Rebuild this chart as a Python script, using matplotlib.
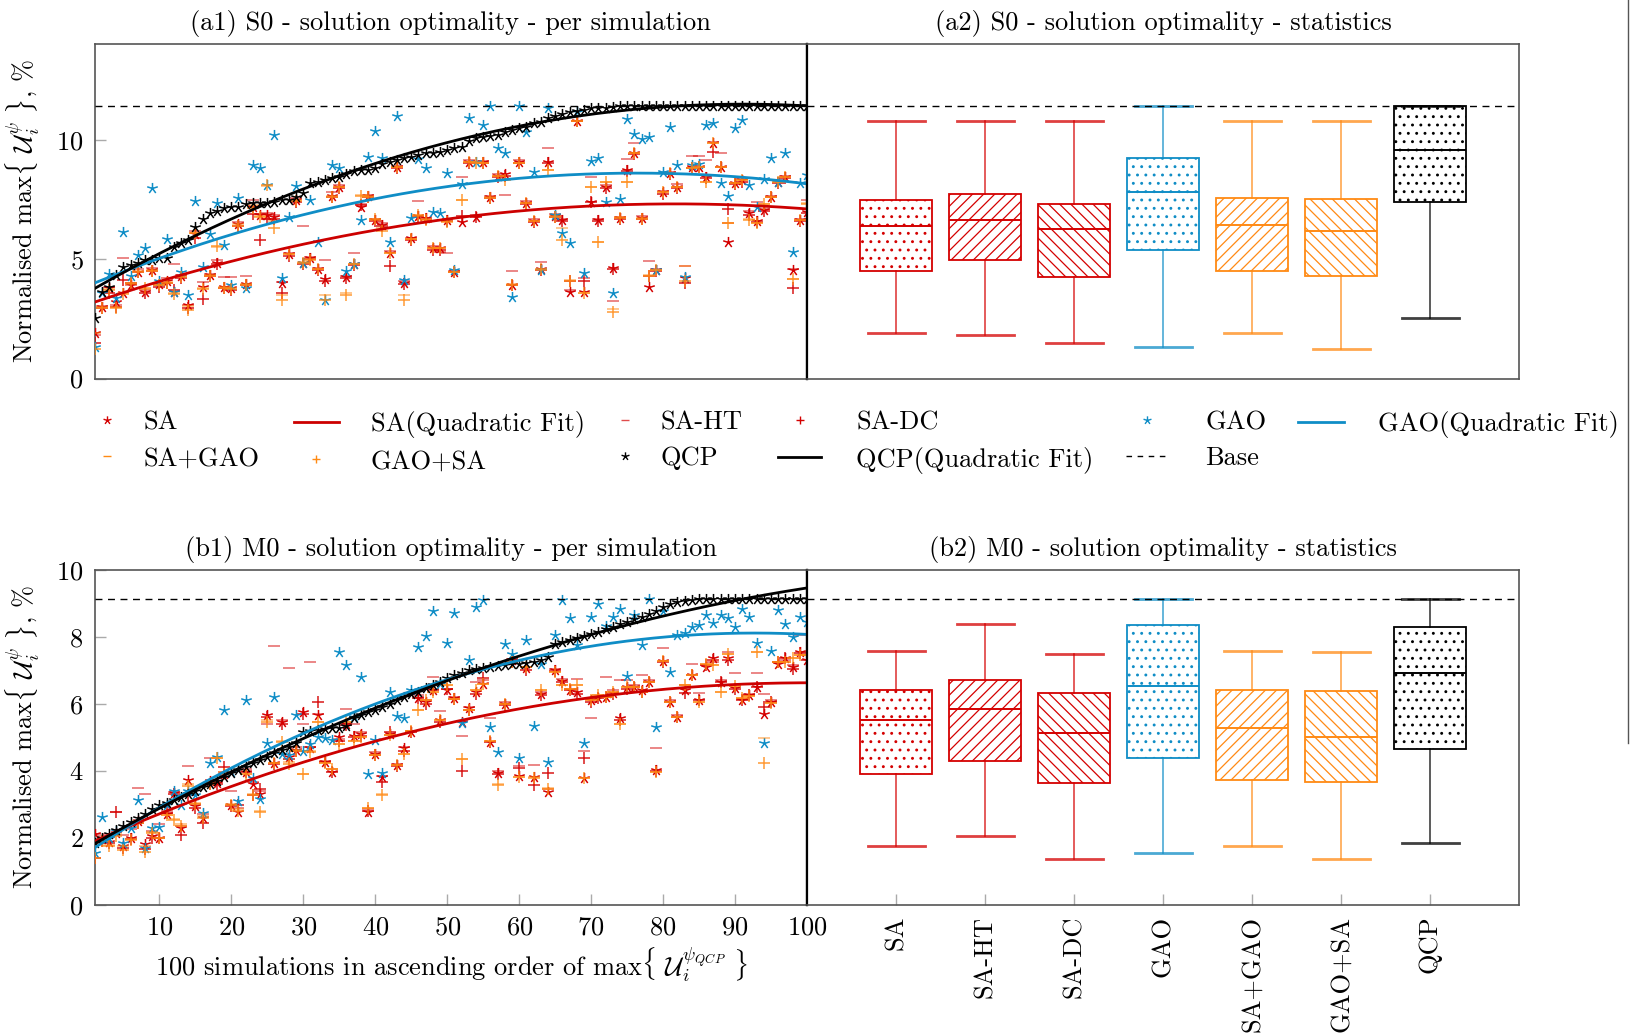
import numpy as np
import matplotlib
matplotlib.use('Agg')
import matplotlib.pyplot as plt
from matplotlib.path import Path
from matplotlib.lines import Line2D

plt.rcParams['font.family'] = ['cmr10', 'DejaVu Serif']
plt.rcParams['mathtext.fontset'] = 'cm'
plt.rcParams['axes.formatter.use_mathtext'] = True
plt.rcParams['axes.unicode_minus'] = False
plt.rcParams['hatch.linewidth'] = 0.9

FS = 19
RED = '#d40000'
BLUE = '#0f8dc6'
ORANGE = '#ff8a14'
W, H = 1636, 1033

sims = np.arange(1, 101)

### S0 - per simulation
s0_sa = [1.90, 3.00, 3.80, 3.20, 3.60, 3.92, 4.48, 3.64, 4.55, 3.95,
         4.10, 3.64, 4.30, 3.08, 6.05, 3.85, 4.34, 4.86, 3.85, 3.78,
         6.46, 3.95, 7.20, 6.85, 6.85, 6.78, 4.00, 5.20, 7.48, 4.86,
         5.04, 4.60, 4.16, 7.65, 8.04, 4.25, 4.80, 7.20, 7.65, 6.64,
         6.43, 5.27, 8.85, 4.00, 5.88, 6.80, 6.71, 5.46, 5.46, 6.64,
         4.48, 6.57, 9.09, 6.78, 9.09, 7.60, 8.48, 8.55, 3.92, 9.09,
         7.37, 6.60, 4.60, 9.09, 6.80, 6.64, 3.64, 10.80, 3.64, 7.41,
         6.64, 8.04, 4.65, 6.71, 8.74, 9.44, 6.71, 3.85, 4.55, 7.80,
         8.60, 8.04, 4.20, 8.85, 8.88, 8.46, 9.85, 8.88, 5.74, 8.18,
         8.30, 6.92, 6.60, 7.05, 7.62, 8.25, 8.46, 4.55, 6.64, 6.99]
s0_ht = [1.83, 3.05, 3.85, 3.10, 5.04, 3.90, 4.60, 3.70, 4.62, 3.90,
         4.20, 4.80, 4.35, 3.10, 6.20, 4.05, 4.40, 4.95, 4.27, 4.25,
         6.55, 4.30, 7.50, 6.90, 6.95, 6.85, 4.05, 5.25, 7.55, 6.40,
         5.10, 4.65, 4.95, 7.80, 8.10, 4.30, 5.25, 7.30, 7.70, 6.70,
         6.50, 5.35, 8.90, 4.10, 5.88, 7.45, 6.55, 5.55, 5.30, 5.25,
         4.50, 8.43, 9.15, 6.85, 9.10, 7.65, 8.55, 7.71, 4.50, 9.15,
         7.45, 6.70, 4.90, 9.67, 6.90, 6.70, 3.70, 10.80, 4.20, 8.43,
         6.70, 8.10, 3.25, 6.75, 9.20, 9.88, 6.80, 4.94, 4.60, 7.85,
         8.65, 8.15, 4.70, 9.32, 9.32, 9.15, 9.90, 9.44, 6.50, 8.20,
         8.35, 7.00, 7.40, 7.10, 7.65, 8.30, 8.50, 4.60, 6.70, 7.50]
s0_dc = [1.49, 2.95, 3.60, 3.00, 4.13, 4.00, 4.45, 3.60, 4.50, 3.85,
         4.00, 3.70, 4.20, 2.95, 5.90, 3.35, 4.30, 4.80, 3.80, 3.70,
         6.40, 3.90, 6.90, 5.81, 6.70, 6.70, 3.60, 5.15, 7.40, 4.80,
         5.00, 4.55, 4.10, 7.60, 8.00, 4.20, 4.75, 7.25, 7.60, 6.60,
         6.40, 4.70, 8.80, 3.95, 5.80, 6.75, 6.70, 5.40, 5.40, 6.60,
         4.45, 6.80, 9.05, 6.75, 9.05, 7.55, 8.45, 8.50, 3.90, 9.05,
         7.30, 6.55, 4.55, 9.05, 6.78, 6.60, 4.10, 10.80, 4.10, 7.40,
         6.60, 8.00, 4.60, 6.70, 8.70, 9.40, 6.70, 4.30, 4.50, 7.75,
         8.55, 8.00, 4.00, 8.80, 8.85, 8.40, 9.51, 8.85, 7.10, 8.15,
         8.25, 6.85, 6.55, 7.00, 7.60, 8.20, 8.40, 3.78, 6.60, 6.95]
s0_gao = [1.34, 3.60, 4.40, 3.36, 6.13, 4.30, 5.18, 5.46, 7.97, 4.10,
          5.85, 3.64, 4.45, 3.50, 7.44, 4.69, 6.04, 7.37, 5.60, 3.90,
          7.55, 3.78, 8.95, 8.81, 8.10, 10.20, 4.20, 6.78, 8.07, 4.86,
          7.48, 5.73, 3.30, 8.95, 8.81, 4.52, 4.80, 6.64, 9.27, 10.39,
          9.23, 5.73, 11.00, 4.13, 6.71, 9.20, 8.81, 6.99, 6.92, 8.63,
          4.55, 8.15, 10.90, 9.09, 10.62, 11.43, 9.65, 9.44, 3.40, 11.43,
          10.34, 8.67, 4.55, 11.32, 6.85, 6.08, 5.67, 11.18, 4.44, 9.13,
          9.23, 7.41, 3.60, 7.51, 10.88, 10.25, 10.04, 10.13, 4.55, 8.67,
          10.53, 8.95, 4.24, 8.95, 9.00, 10.62, 10.69, 8.20, 7.66, 10.51,
          10.83, 8.11, 7.20, 8.35, 9.23, 8.25, 9.44, 5.29, 8.18, 8.53]
s0_sagao = [1.90, 3.00, 3.75, 3.00, 3.57, 3.95, 4.50, 3.75, 4.55, 3.92,
            4.05, 3.60, 4.30, 3.05, 6.10, 3.80, 4.35, 5.50, 3.85, 3.80,
            6.46, 3.95, 7.25, 6.80, 8.05, 6.60, 3.50, 5.20, 7.48, 4.90,
            5.00, 4.58, 3.50, 7.65, 8.04, 3.60, 4.80, 7.69, 7.65, 6.65,
            6.30, 5.27, 8.85, 3.50, 5.85, 6.80, 6.70, 5.46, 5.46, 6.60,
            4.48, 7.48, 9.09, 9.09, 9.05, 7.60, 8.48, 8.35, 3.95, 9.05,
            7.37, 6.60, 4.55, 8.74, 6.80, 6.30, 4.15, 10.80, 3.60, 8.04,
            5.74, 8.25, 2.90, 6.75, 8.22, 9.44, 6.71, 4.35, 4.55, 7.80,
            8.60, 8.04, 4.70, 8.80, 8.88, 8.25, 9.85, 8.88, 6.50, 8.18,
            8.30, 6.70, 6.50, 7.30, 7.62, 8.25, 8.46, 4.16, 6.65, 7.35]
s0_gaosa = [1.24, 2.95, 3.70, 2.95, 3.55, 4.00, 4.45, 3.80, 4.50, 3.92,
            4.00, 3.55, 4.25, 2.88, 6.08, 3.75, 4.30, 5.55, 3.80, 3.75,
            6.40, 3.90, 7.15, 6.75, 8.10, 6.30, 3.29, 5.20, 7.45, 4.86,
            4.95, 4.58, 3.29, 7.60, 8.04, 3.50, 4.78, 7.65, 7.60, 6.70,
            6.20, 5.25, 8.85, 3.29, 5.85, 6.85, 6.65, 5.45, 5.45, 6.55,
            4.45, 7.48, 9.09, 9.05, 9.05, 7.55, 8.48, 8.30, 3.90, 9.05,
            7.35, 6.60, 4.60, 8.74, 6.78, 5.80, 4.10, 10.80, 3.60, 8.04,
            5.74, 8.25, 2.80, 6.71, 8.22, 9.44, 6.70, 4.30, 4.55, 7.80,
            8.60, 8.04, 4.10, 8.80, 8.88, 8.25, 9.85, 8.85, 6.50, 8.18,
            8.30, 6.65, 6.50, 7.30, 7.60, 8.25, 8.46, 4.16, 6.65, 7.30]
s0_qcp = [2.55, 3.64, 3.85, 4.34, 4.69, 4.76, 4.86, 4.97, 4.97, 5.04,
          5.04, 5.53, 5.67, 5.81, 6.36, 6.69, 6.92, 7.00, 7.13, 7.20,
          7.20, 7.30, 7.34, 7.34, 7.37, 7.41, 7.48, 7.50, 7.62, 7.76,
          8.18, 8.25, 8.32, 8.39, 8.46, 8.57, 8.69, 8.74, 8.74, 8.81,
          8.99, 9.08, 9.16, 9.23, 9.30, 9.36, 9.43, 9.46, 9.50, 9.57,
          9.64, 9.71, 9.93, 10.07, 10.11, 10.15, 10.20, 10.34, 10.41, 10.48,
          10.55, 10.69, 10.76, 10.93, 11.00, 11.08, 11.18, 11.22, 11.25, 11.32,
          11.32, 11.35, 11.39, 11.42, 11.43, 11.43, 11.43, 11.43, 11.43, 11.43,
          11.43, 11.43, 11.43, 11.43, 11.43, 11.43, 11.43, 11.43, 11.43, 11.43,
          11.43, 11.43, 11.43, 11.43, 11.43, 11.43, 11.43, 11.43, 11.43, 11.43]

### M0 - per simulation
m0_sa = [2.10, 1.95, 1.88, 2.15, 1.76, 2.00, 2.50, 1.80, 2.05, 2.00,
         2.70, 3.32, 2.30, 3.72, 2.95, 2.60, 3.68, 3.62, 3.90, 2.98,
         2.78, 3.97, 3.60, 3.30, 5.66, 4.22, 5.46, 4.40, 4.62, 5.76,
         4.67, 5.66, 4.25, 3.97, 5.00, 5.40, 5.05, 5.09, 2.78, 4.50,
         3.80, 5.10, 4.17, 4.67, 5.16, 6.16, 6.06, 6.40, 5.50, 6.40,
         6.16, 5.46, 5.86, 6.36, 6.60, 4.87, 3.92, 5.98, 7.30, 3.85,
         7.06, 3.80, 6.30, 3.37, 7.00, 6.68, 6.41, 6.36, 3.79, 6.10,
         6.16, 6.20, 6.33, 5.58, 6.50, 6.51, 6.40, 6.66, 4.02, 7.26,
         6.06, 5.61, 6.40, 6.86, 6.11, 7.10, 7.35, 6.65, 7.35, 6.46,
         6.11, 6.26, 6.51, 5.68, 6.06, 7.20, 7.35, 7.10, 7.55, 7.30]
m0_ht = [2.10, 2.05, 2.10, 2.78, 2.08, 2.25, 3.47, 3.30, 2.20, 2.40,
         2.80, 3.35, 2.35, 4.14, 3.00, 2.70, 4.39, 3.70, 3.95, 3.40,
         2.90, 4.05, 3.65, 3.40, 5.40, 7.73, 5.50, 7.08, 4.70, 5.40,
         7.23, 5.70, 4.30, 4.05, 4.95, 5.83, 5.40, 5.15, 2.85, 4.55,
         3.85, 5.06, 4.20, 4.70, 5.20, 6.25, 6.10, 6.81, 5.78, 6.45,
         6.20, 5.04, 5.90, 6.65, 6.70, 5.58, 4.00, 6.05, 7.32, 4.15,
         7.10, 4.17, 6.35, 3.45, 7.05, 6.73, 6.45, 6.73, 4.60, 5.56,
         6.20, 6.81, 6.40, 6.71, 6.71, 6.55, 6.86, 6.70, 4.69, 7.67,
         6.10, 5.65, 6.56, 7.20, 6.31, 7.15, 7.25, 6.70, 7.55, 6.93,
         6.15, 6.30, 6.93, 6.30, 6.10, 7.25, 7.30, 7.15, 8.05, 7.55]
m0_dc = [1.40, 1.90, 1.85, 2.78, 1.70, 1.95, 2.45, 1.65, 2.00, 1.98,
         2.75, 3.30, 2.08, 3.27, 2.90, 2.43, 3.60, 3.60, 4.12, 2.95,
         2.98, 3.95, 3.27, 3.45, 5.60, 4.20, 5.40, 4.35, 4.60, 5.70,
         4.72, 6.06, 4.27, 3.95, 4.90, 5.35, 5.00, 5.05, 2.80, 4.47,
         3.67, 5.17, 4.15, 4.60, 5.15, 6.16, 6.00, 6.40, 5.45, 6.45,
         6.15, 3.99, 5.80, 6.30, 6.76, 4.85, 3.90, 5.95, 7.25, 4.09,
         7.00, 3.57, 6.25, 3.92, 6.98, 6.65, 6.40, 6.30, 4.37, 6.05,
         6.16, 6.20, 6.30, 5.50, 6.45, 6.50, 6.35, 6.66, 4.00, 7.25,
         6.05, 5.60, 6.31, 6.85, 6.10, 7.15, 7.30, 6.66, 7.30, 6.45,
         6.10, 6.25, 6.50, 5.90, 6.05, 7.25, 7.35, 7.05, 7.50, 7.30]
m0_gao = [1.53, 2.63, 2.00, 2.20, 1.85, 2.28, 3.13, 1.68, 2.28, 2.33,
          2.98, 3.40, 2.98, 3.40, 3.27, 2.73, 4.22, 4.40, 5.81, 3.97,
          3.10, 6.11, 3.77, 3.17, 4.82, 6.21, 4.50, 4.47, 5.66, 4.60,
          4.80, 5.00, 4.97, 4.92, 7.55, 7.16, 5.60, 6.81, 3.90, 4.92,
          3.92, 6.36, 5.64, 5.56, 6.41, 7.70, 8.02, 8.78, 6.60, 7.80,
          8.70, 5.41, 7.30, 8.90, 9.10, 5.30, 4.57, 7.77, 7.47, 4.37,
          7.90, 5.34, 7.20, 4.27, 8.05, 9.10, 8.57, 7.75, 4.82, 8.60,
          8.97, 8.32, 8.58, 8.82, 6.83, 8.65, 7.75, 9.12, 5.31, 8.77,
          6.94, 8.05, 8.10, 8.30, 8.35, 8.65, 8.40, 8.65, 8.55, 8.30,
          8.83, 8.60, 7.80, 4.82, 7.56, 8.80, 8.37, 8.00, 8.60, 8.45]
m0_sagao = [1.80, 1.93, 1.78, 2.10, 1.74, 1.95, 2.50, 1.75, 2.18, 1.98,
            2.68, 2.55, 2.40, 3.60, 3.05, 2.65, 3.65, 4.37, 3.95, 3.00,
            2.85, 3.90, 3.30, 2.80, 5.50, 4.22, 4.90, 4.25, 4.62, 3.90,
            4.60, 5.45, 4.22, 4.05, 4.80, 5.45, 4.90, 5.00, 2.88, 4.47,
            3.30, 5.06, 4.17, 4.50, 5.20, 5.80, 6.10, 6.35, 5.50, 6.55,
            6.13, 4.34, 5.80, 6.40, 6.60, 4.90, 3.60, 5.98, 7.25, 3.82,
            7.10, 3.80, 6.41, 3.47, 6.96, 6.55, 6.45, 6.55, 3.79, 6.10,
            6.25, 6.20, 6.36, 5.38, 6.51, 6.51, 6.36, 6.66, 3.97, 7.27,
            6.04, 5.61, 6.56, 6.86, 6.06, 7.20, 7.15, 6.36, 7.47, 6.54,
            6.16, 6.24, 7.53, 4.97, 6.01, 7.25, 7.25, 7.35, 7.45, 7.45]
m0_gaosa = [1.38, 1.90, 1.75, 2.05, 1.63, 1.93, 2.45, 1.58, 2.15, 1.98,
            2.68, 2.53, 2.35, 3.55, 3.00, 2.60, 3.60, 4.37, 3.90, 2.98,
            2.80, 3.90, 3.27, 2.78, 5.45, 4.22, 4.87, 4.20, 4.60, 3.90,
            4.55, 5.45, 4.22, 4.05, 4.80, 5.45, 4.90, 5.00, 2.88, 4.47,
            3.27, 5.06, 4.17, 4.50, 5.20, 5.80, 6.10, 6.35, 5.50, 6.55,
            6.13, 4.34, 5.80, 6.40, 6.60, 4.90, 3.57, 5.98, 7.25, 3.82,
            7.10, 3.78, 6.41, 3.45, 6.96, 6.55, 6.45, 6.55, 3.79, 6.10,
            6.25, 6.20, 6.36, 5.38, 6.51, 6.51, 6.36, 6.66, 3.97, 7.27,
            6.04, 5.61, 6.56, 6.86, 6.06, 7.20, 7.15, 6.36, 7.47, 6.54,
            6.16, 6.24, 7.53, 4.22, 6.01, 7.25, 7.25, 7.35, 7.45, 7.45]
m0_qcp = [1.83, 1.98, 2.10, 2.22, 2.35, 2.48, 2.60, 2.72, 2.85, 2.97,
          3.05, 3.13, 3.22, 3.30, 3.40, 3.50, 3.60, 3.70, 3.80, 3.92,
          4.02, 4.12, 4.22, 4.32, 4.42, 4.52, 4.62, 4.72, 4.82, 5.15,
          5.20, 5.22, 5.24, 5.26, 5.28, 5.32, 5.58, 5.66, 5.74, 5.82,
          5.90, 6.00, 6.10, 6.20, 6.28, 6.36, 6.46, 6.56, 6.66, 6.76,
          6.85, 6.93, 7.00, 7.05, 7.08, 7.10, 7.12, 7.15, 7.18, 7.20,
          7.22, 7.25, 7.30, 7.38, 7.78, 7.85, 7.90, 7.96, 8.02, 8.08,
          8.15, 8.22, 8.30, 8.38, 8.45, 8.52, 8.60, 8.68, 8.78, 8.88,
          8.98, 9.05, 9.08, 9.10, 9.12, 9.12, 9.12, 9.12, 9.12, 9.12,
          9.12, 9.12, 9.12, 9.12, 9.12, 9.12, 9.12, 9.12, 9.12, 9.12]

s0_base = 11.43
m0_base = 9.12

### Box statistics
box_names = ['SA', 'SA-HT', 'SA-DC', 'GAO', 'SA+GAO', 'GAO+SA', 'QCP']
s0_lo  = [1.90, 1.83, 1.49, 1.34, 1.90, 1.24, 2.55]
s0_q1  = [4.51, 4.95, 4.27, 5.39, 4.51, 4.30, 7.39]
s0_med = [6.41, 6.63, 6.25, 7.80, 6.43, 6.20, 9.56]
s0_q3  = [7.50, 7.75, 7.33, 9.23, 7.58, 7.51, 11.43]
s0_hi  = [10.80, 10.80, 10.80, 11.43, 10.80, 10.80, 11.43]
m0_lo  = [1.76, 2.04, 1.36, 1.53, 1.74, 1.36, 1.83]
m0_q1  = [3.89, 4.30, 3.62, 4.37, 3.71, 3.65, 4.64]
m0_med = [5.51, 5.83, 5.13, 6.52, 5.27, 5.00, 6.91]
m0_q3  = [6.40, 6.72, 6.31, 8.34, 6.40, 6.39, 8.30]
m0_hi  = [7.57, 8.39, 7.47, 9.12, 7.57, 7.53, 9.12]

box_colors = [RED, RED, RED, BLUE, ORANGE, ORANGE, 'black']
box_hatch = ['..', '///', '\\\\\\', '..', '///', '\\\\\\', '..']


# пятилучевая звёздочка как в pgfplots
ang = np.deg2rad(90 + 72 * np.arange(5))
verts, codes = [], []
for a in ang:
    verts += [(0, 0), (np.cos(a), np.sin(a))]
    codes += [Path.MOVETO, Path.LINETO]
STAR = Path(verts, codes)


def style_axes(ax):
    for sp in ax.spines.values():
        sp.set_color('#555555')
        sp.set_linewidth(1.2)
    ax.tick_params(direction='in', length=8, width=1, color='#aaaaaa',
                   labelsize=FS, pad=8)


def draw_sims(ax, series, base, ylim, yticks, title, bottom_row):
    for vals, mk, col, al, ms in series:
        ax.plot(sims, vals, ls='none', marker=mk, color=col, mfc='none',
                mec=col, mew=1.1, ms=ms, alpha=al, zorder=3)
    xx = np.linspace(1, 100, 300)
    for vals, col in [(series[0][0], '#cc0000'), (series[3][0], BLUE), (series[6][0], 'black')]:
        c = np.polyfit(sims, vals, 2)
        ax.plot(xx, np.polyval(c, xx), color=col, lw=2, zorder=4)
    ax.axhline(base, color='black', ls=(0, (5, 4)), lw=1, zorder=5)
    ax.set_xlim(1, 100)
    ax.set_ylim(*ylim)
    ax.set_yticks(yticks)
    style_axes(ax)
    ax.spines['right'].set_color('black')
    ax.spines['right'].set_linewidth(1.6)
    ax.set_title(title, fontsize=FS, pad=10)
    ax.set_ylabel(r'Normalised max$\{\ \mathcal{U}_i^{\psi}\ \}$, %', fontsize=FS, labelpad=10)
    if bottom_row:
        ax.set_xticks(np.arange(10, 101, 10))
        ax.set_xlabel(r'100 simulations in ascending order of max$\{\ \mathcal{U}_i^{\psi_{QCP}}\ \}$',
                      fontsize=FS, labelpad=4)
    else:
        ax.set_xticks([])


def draw_boxes(ax, lo, q1, med, q3, hi, base, ylim, title, bottom_row):
    stats = [dict(label=n, whislo=a, q1=b, med=c, q3=d, whishi=e)
             for n, a, b, c, d, e in zip(box_names, lo, q1, med, q3, hi)]
    bp = ax.bxp(stats, positions=range(1, 8), widths=0.8, capwidths=0.64,
                showfliers=False, patch_artist=True, manage_ticks=False)
    for i, col in enumerate(box_colors):
        box = bp['boxes'][i]
        box.set_facecolor('white')
        box.set_edgecolor(col)
        box.set_hatch(box_hatch[i])
        box.set_linewidth(1.3)
        bp['medians'][i].set_color(col)
        bp['medians'][i].set_linewidth(1.4)
        for ln in bp['whiskers'][2 * i:2 * i + 2]:
            ln.set_color(col)
            ln.set_alpha(0.75)
            ln.set_linewidth(1.2)
        for ln in bp['caps'][2 * i:2 * i + 2]:
            ln.set_color(col)
            ln.set_alpha(0.75)
            ln.set_linewidth(2)
    ax.axhline(base, color='black', ls=(0, (5, 4)), lw=1, zorder=5)
    ax.set_xlim(0, 8)
    ax.set_ylim(*ylim)
    style_axes(ax)
    ax.spines['left'].set_color('black')
    ax.spines['left'].set_linewidth(1.6)
    ax.set_yticks([])
    ax.set_title(title, fontsize=FS, pad=10)
    if bottom_row:
        ax.set_xticks(range(1, 8))
        ax.set_xticklabels(box_names, rotation=90)
    else:
        ax.set_xticks([])


fig = plt.figure(figsize=(W / 100, H / 100), dpi=100)

ax_a1 = fig.add_axes([0.0578, 0.6335, 0.4355, 0.3236])
ax_a2 = fig.add_axes([0.4933, 0.6335, 0.4352, 0.3236])
ax_b1 = fig.add_axes([0.0578, 0.1242, 0.4355, 0.3243])
ax_b2 = fig.add_axes([0.4933, 0.1242, 0.4352, 0.3243])

s0_series = [(s0_sa, STAR, RED, 1.0, 8), (s0_ht, '_', RED, 0.6, 8), (s0_dc, '+', RED, 0.9, 8),
             (s0_gao, STAR, BLUE, 1.0, 8), (s0_sagao, '_', ORANGE, 0.6, 8),
             (s0_gaosa, '+', ORANGE, 0.85, 8), (s0_qcp, STAR, 'black', 1.0, 8)]
m0_series = [(m0_sa, STAR, RED, 1.0, 8), (m0_ht, '_', RED, 0.6, 8), (m0_dc, '+', RED, 0.9, 8),
             (m0_gao, STAR, BLUE, 1.0, 8), (m0_sagao, '_', ORANGE, 0.6, 8),
             (m0_gaosa, '+', ORANGE, 0.85, 8), (m0_qcp, STAR, 'black', 1.0, 8)]

draw_sims(ax_a1, s0_series, s0_base, (0, 14), [0, 5, 10],
          '(a1) S0 - solution optimality - per simulation', False)
draw_boxes(ax_a2, s0_lo, s0_q1, s0_med, s0_q3, s0_hi, s0_base, (0, 14),
           '(a2) S0 - solution optimality - statistics', False)
draw_sims(ax_b1, m0_series, m0_base, (0, 10), [0, 2, 4, 6, 8, 10],
          '(b1) M0 - solution optimality - per simulation', True)
draw_boxes(ax_b2, m0_lo, m0_q1, m0_med, m0_q3, m0_hi, m0_base, (0, 10),
           '(b2) M0 - solution optimality - statistics', True)


### Легенда: по колонке на каждую, как в pgfplots
def mk(marker, col, al=1.0):
    return Line2D([], [], ls='none', marker=marker, color=col, mec=col, mfc='none',
                  ms=6, mew=1, alpha=al)

def ln(col, ls='-', lw=2):
    return Line2D([], [], color=col, ls=ls, lw=lw)

leg_cols = [
    ([mk(STAR, RED), mk('_', ORANGE)], ['SA', 'SA+GAO'], 99, 0.6, 1.1),
    ([ln('#cc0000'), mk('+', ORANGE)], ['SA(Quadratic Fit)', 'GAO+SA'], 294, 1.7, 1.21),
    ([mk('_', RED, 0.7), mk(STAR, 'black')], ['SA-HT', 'QCP'], 617, 0.6, 1.05),
    ([mk('+', RED), ln('black')], ['SA-DC', 'QCP(Quadratic Fit)'], 778, 1.63, 1.33),
    ([mk(STAR, BLUE), ln('black', (0, (4, 4)), 1)], ['GAO', 'Base'], 1126, 1.6, 1.4),
    ([ln(BLUE)], ['GAO(Quadratic Fit)'], 1298, 1.74, 1.29),
]
for hs, labs, x0, hl, pad in leg_cols:
    fig.legend(hs, labs, loc='upper left', bbox_to_anchor=(x0 / W, 1 - 411 / H),
               frameon=False, fontsize=FS, handlelength=hl, handletextpad=pad,
               borderpad=0, borderaxespad=0, labelspacing=0.45)

# обрезанная рамка справа
fig.add_artist(Line2D([0.9951, 0.9951], [1.0, 0.281], color='#555555', lw=1))

plt.savefig('out.png', dpi=100)
